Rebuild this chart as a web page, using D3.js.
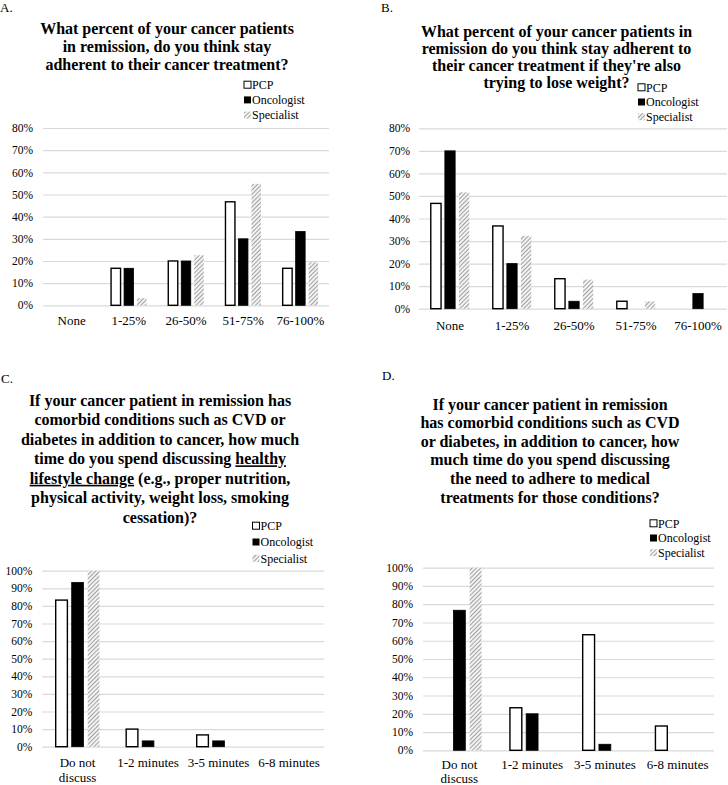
<!DOCTYPE html>
<html>
<head>
<meta charset="utf-8">
<script src="https://cdn.jsdelivr.net/npm/d3@7"></script>
<style>
  html, body { margin: 0; padding: 0; background: #fff; }
  svg { display: block; font-family: "Liberation Serif", "Times New Roman", serif; }
</style>
</head>
<body>
<svg id="chart" width="728" height="785"></svg>
<script>
// ---------- DATA ----------
const seriesNames = ["PCP", "Oncologist", "Specialist"];

const categoriesAB = ["None", "1-25%", "26-50%", "51-75%", "76-100%"];
const categoriesCD = ["Do not discuss", "1-2 minutes", "3-5 minutes", "6-8 minutes"];

const ticksAB = [0, 10, 20, 30, 40, 50, 60, 70, 80];
const ticksCD = [0, 10, 20, 30, 40, 50, 60, 70, 80, 90, 100];

// Panel A
const pcpA = [0, 16.7, 20.0, 46.7, 16.7];
const oncA = [0, 16.7, 20.0, 30.0, 33.3];
const specA = [0, 3.2, 22.6, 54.8, 19.4];

// Panel B
const pcpB = [46.7, 36.7, 13.3, 3.3, 0];
const oncB = [70.0, 20.0, 3.3, 0, 6.7];
const specB = [51.6, 32.3, 12.9, 3.2, 0];

// Panel C
const pcpC = [83.3, 10.0, 6.7, 0];
const oncC = [93.3, 3.3, 3.3, 0];
const specC = [100, 0, 0, 0];

// Panel D
const pcpD = [0, 23.3, 63.3, 13.3];
const oncD = [76.7, 20.0, 3.3, 0];
const specD = [100, 0, 0, 0];

// Titles (segments: [text, underlined])
const titleA = [
  [["What percent of your cancer patients", false]],
  [["in remission, do you think stay", false]],
  [["adherent to their cancer treatment?", false]]
];
const titleB = [
  [["What percent of your cancer patients in", false]],
  [["remission do you think stay adherent to", false]],
  [["their cancer treatment if they're also", false]],
  [["trying to lose weight?", false]]
];
const titleC = [
  [["If your cancer patient in remission has", false]],
  [["comorbid conditions such as CVD or", false]],
  [["diabetes in addition to cancer, how much", false]],
  [["time do you spend discussing ", false], ["healthy", true]],
  [["lifestyle change", true], [" (e.g., proper nutrition,", false]],
  [["physical activity, weight loss, smoking", false]],
  [["cessation)?", false]]
];
const titleD = [
  [["If your cancer patient in remission", false]],
  [["has comorbid conditions such as CVD", false]],
  [["or diabetes, in addition to cancer, how", false]],
  [["much time do you spend discussing", false]],
  [["the need to adhere to medical", false]],
  [["treatments for those conditions?", false]]
];

// ---------- DRAWING ----------
const svg = d3.select("#chart");
const defs = svg.append("defs");
const pat = defs.append("pattern")
  .attr("id", "hatch")
  .attr("patternUnits", "userSpaceOnUse")
  .attr("width", 3).attr("height", 3)
  .attr("patternTransform", "rotate(45)");
pat.append("rect").attr("width", 3).attr("height", 3).attr("fill", "#f2f2f2");
pat.append("line").attr("x1", 0).attr("y1", 0).attr("x2", 0).attr("y2", 3)
  .attr("stroke", "#8c8c8c").attr("stroke-width", 1.6);

const styles = [
  { fill: "#ffffff", stroke: "#000", sw: 1.4 },
  { fill: "#000000", stroke: "#000", sw: 0.8 },
  { fill: "url(#hatch)", stroke: "none", sw: 0 }
];

function wrapLabel(textSel, width, lh) {
  textSel.each(function () {
    const t = d3.select(this);
    const words = t.text().split(/\s+/);
    const y = +t.attr("y");
    t.text(null);
    let line = [];
    let tspan = t.append("tspan").attr("x", 0).attr("y", y);
    let lineNo = 0;
    for (const w of words) {
      line.push(w);
      tspan.text(line.join(" "));
      if (tspan.node().getComputedTextLength() > width && line.length > 1) {
        line.pop();
        tspan.text(line.join(" "));
        line = [w];
        lineNo++;
        tspan = t.append("tspan").attr("x", 0).attr("y", y + lineNo * lh).text(w);
      }
    }
  });
}

function drawPanel(p) {
  const g = svg.append("g");
  const y = d3.scaleLinear().domain([0, p.max]).range([p.y0, p.yTop]);
  const x = d3.scaleBand().domain(p.cats).range([p.x0, p.x1]).paddingInner(0).paddingOuter(0);
  const groupW = x.bandwidth() * p.groupFrac;
  const xi = d3.scaleBand().domain(seriesNames).range([0, groupW]).paddingInner(0.27);

  // gridlines + y labels
  const yAxis = d3.axisLeft(y).tickValues(p.ticks).tickFormat(d => d + "%")
    .tickSize(-(p.gridX1 - p.gridX0)).tickPadding(p.tickPad);
  const ya = g.append("g").attr("transform", `translate(${p.gridX0},0)`).call(yAxis);
  ya.select(".domain").remove();
  ya.selectAll("line").attr("stroke", "#d9d9d9").attr("stroke-width", 1.2);
  ya.selectAll("text").attr("font-size", 11.5).attr("fill", "#000")
    .attr("font-family", "Liberation Serif, serif");

  // bars
  const series = [p.pcp, p.onc, p.spec];
  series.forEach((vals, si) => {
    const st = styles[si];
    g.append("g").selectAll("rect")
      .data(vals.map((v, i) => ({ v, c: p.cats[i] })).filter(d => d.v > 0))
      .join("rect")
      .attr("x", d => x(d.c) + (x.bandwidth() - groupW) / 2 + xi(seriesNames[si]))
      .attr("y", d => y(d.v))
      .attr("width", xi.bandwidth())
      .attr("height", d => y(0) - y(d.v))
      .attr("fill", st.fill)
      .attr("stroke", st.stroke)
      .attr("stroke-width", st.sw);
  });

  // x labels
  const xAxis = d3.axisBottom(x).tickSize(0);
  const xa = g.append("g").attr("transform", `translate(0,${p.y0})`).call(xAxis);
  xa.select(".domain").remove();
  xa.selectAll("text").attr("font-size", 13).attr("fill", "#000")
    .attr("font-family", "Liberation Serif, serif")
    .attr("y", p.xLabOff).attr("dy", null);
  if (p.wrap) wrapLabel(xa.selectAll(".tick text"), x.bandwidth() - 4, p.wrapLH);

  // title
  const tt = g.append("text").attr("text-anchor", "middle")
    .attr("font-size", 16).attr("font-weight", "bold").attr("fill", "#000");
  p.title.forEach((segs, li) => {
    segs.forEach((s, si) => {
      const ts = tt.append("tspan").text(s[0]).attr("text-decoration", s[1] ? "underline" : null);
      if (si === 0) ts.attr("x", p.titleX).attr("y", p.titleY + li * p.titleLH);
    });
  });

  // panel letter
  g.append("text").attr("x", p.letterX).attr("y", p.letterY)
    .attr("font-size", 13).text(p.letter);

  // legend
  const lg = g.append("g");
  seriesNames.forEach((n, i) => {
    const cy = p.legY + i * p.legLH;
    const st = styles[i];
    lg.append("rect").attr("x", p.legX).attr("y", cy - 3.5)
      .attr("width", 7).attr("height", 7)
      .attr("fill", st.fill).attr("stroke", st.stroke === "none" ? "none" : "#000")
      .attr("stroke-width", i === 0 ? 1 : 0);
    lg.append("text").attr("x", p.legX + 8).attr("y", cy + 4.3)
      .attr("font-size", 12).text(n);
  });
}

drawPanel({
  letter: "A.", letterX: 0, letterY: 11.5,
  cats: categoriesAB, ticks: ticksAB, max: 80,
  pcp: pcpA, onc: oncA, spec: specA,
  x0: 43, x1: 329, gridX0: 43, gridX1: 329, y0: 305.3, yTop: 128,
  groupFrac: 0.62, tickPad: 10, xLabOff: 20,
  title: titleA, titleX: 167, titleY: 33.5, titleLH: 18,
  legX: 244, legY: 84.7, legLH: 15.2
});

drawPanel({
  letter: "B.", letterX: 381, letterY: 11.5,
  cats: categoriesAB, ticks: ticksAB, max: 80,
  pcp: pcpB, onc: oncB, spec: specB,
  x0: 419, x1: 729, gridX0: 419, gridX1: 727, y0: 308.7, yTop: 128.3,
  groupFrac: 0.62, tickPad: 9, xLabOff: 21,
  title: titleB, titleX: 556.5, titleY: 36.5, titleLH: 17.3,
  legX: 638, legY: 87.3, legLH: 14.7
});

drawPanel({
  letter: "C.", letterX: 1, letterY: 382.5,
  cats: categoriesCD, ticks: ticksCD, max: 100, wrap: true, wrapLH: 15,
  pcp: pcpC, onc: oncC, spec: specC,
  x0: 42.3, x1: 324.3, gridX0: 42.3, gridX1: 324.3, y0: 746.7, yTop: 570.7,
  groupFrac: 0.62, tickPad: 10, xLabOff: 20.3,
  title: titleC, titleX: 160, titleY: 406, titleLH: 19.45,
  legX: 252.5, legY: 525.7, legLH: 16.3
});

drawPanel({
  letter: "D.", letterX: 382, letterY: 379.5,
  cats: categoriesCD, ticks: ticksCD, max: 100, wrap: true, wrapLH: 14.3,
  pcp: pcpD, onc: oncD, spec: specD,
  x0: 423, x1: 714, gridX0: 423, gridX1: 714, y0: 750.3, yTop: 567.7,
  groupFrac: 0.61, tickPad: 10, xLabOff: 18.6,
  title: titleD, titleX: 550, titleY: 409.5, titleLH: 18.6,
  legX: 650, legY: 523.3, legLH: 14.7
});
</script>
</body>
</html>
